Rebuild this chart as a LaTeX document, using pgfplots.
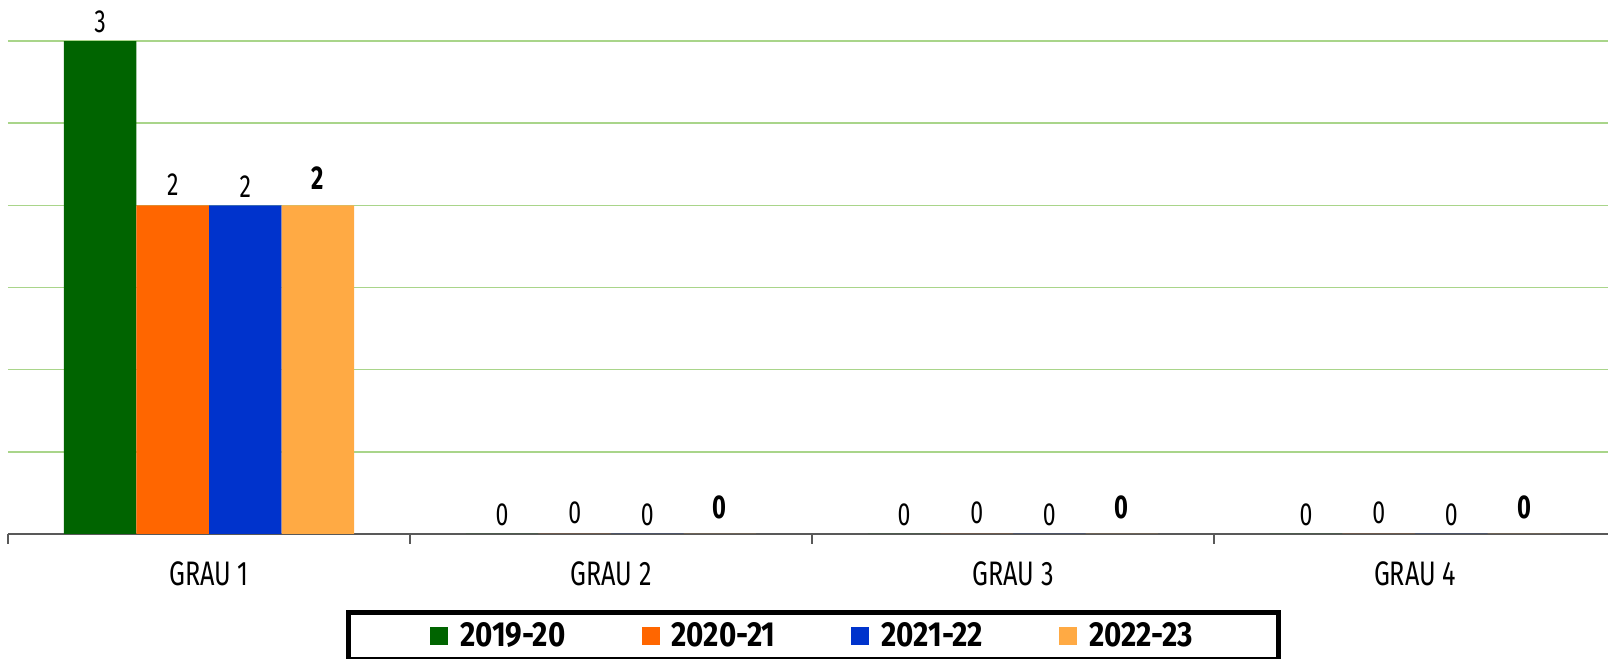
\documentclass[border=0pt]{standalone}
\usepackage{pgfplots}
\pgfplotsset{compat=1.18}
\usepackage{fontspec}
\setmainfont{Fira Sans}[FakeStretch=0.72]
\newfontfamily\tickfont{Fira Sans}[FakeStretch=0.74]
\newfontfamily\legfont{Fira Sans}[FakeStretch=0.85]
\definecolor{cA}{HTML}{006400}
\definecolor{cB}{HTML}{FF6600}
\definecolor{cC}{HTML}{0033CC}
\definecolor{cD}{HTML}{FFAA44}
\definecolor{gridg}{HTML}{A9D58A}
\definecolor{axg}{HTML}{595959}
\pgfplotsset{
  sq legend/.style={legend image code/.code={\fill[##1] (0pt,-4.5pt) rectangle (9pt,4.5pt); \path (13pt,0pt);}},
}
\begin{document}
\begin{tikzpicture}
\useasboundingbox (0,0) rectangle (804pt,329.5pt);
\begin{axis}[
  at={(4pt,62.5pt)}, anchor=south west,
  scale only axis, width=800pt, height=246.5pt,
  xmin=-0.5, xmax=3.48, ymin=0, ymax=3,
  ybar=0pt, bar width=36.3pt,
  clip=false,
  /pgf/number format/assume math mode=true,
  axis x line*=bottom, axis y line*=left,
  y axis line style={draw=none},
  x axis line style={draw=axg, line width=0.8pt, -},
  ytick={0,0.5,...,3}, yticklabels={}, ytick style={draw=none},
  ymajorgrids, grid style={draw=gridg, line width=0.7pt},
  xtick={0,1,2,3}, xticklabels={GRAU 1,GRAU 2,GRAU 3,GRAU 4},
  major tick length=0pt,
  minor xtick={-0.5,0.5,1.5,2.5}, minor tick length=5pt, tick align=outside,
  minor x tick style={draw=axg, line width=0.8pt},
  xticklabel style={font=\tickfont\fontsize{17}{19}\selectfont, anchor=base, yshift=-26pt},
  legend columns=4,
  legend style={at={(0.5034,-0.15416)}, anchor=north, draw=black, line width=2.5pt,
    inner xsep=41pt, inner ysep=3pt,
    font=\legfont\fontsize{17.4}{20}\selectfont\bfseries,
    /tikz/every even column/.append style={column sep=36pt}},
  legend cell align=left,
]
\addplot[fill=cA, draw=none, sq legend, nodes near coords,
  nodes near coords style={font=\fontsize{16}{18}\selectfont, anchor=center, yshift=9.5pt}]
  coordinates {(0,3) (1,0) (2,0) (3,0)};
\addplot[fill=cB, draw=none, sq legend, nodes near coords,
  nodes near coords style={font=\fontsize{16}{18}\selectfont, anchor=center, yshift=10.5pt}]
  coordinates {(0,2) (1,0) (2,0) (3,0)};
\addplot[fill=cC, draw=none, sq legend, nodes near coords,
  nodes near coords style={font=\fontsize{16}{18}\selectfont, anchor=center, yshift=9.5pt}]
  coordinates {(0,2) (1,0) (2,0) (3,0)};
\addplot[fill=cD, draw=none, sq legend, nodes near coords,
  nodes near coords style={font=\fontsize{16.5}{18}\selectfont\bfseries, anchor=center, yshift=13.5pt}]
  coordinates {(0,2) (1,0) (2,0) (3,0)};
\legend{2019-20,2020-21,2021-22,2022-23}
\end{axis}
\end{tikzpicture}
\end{document}
